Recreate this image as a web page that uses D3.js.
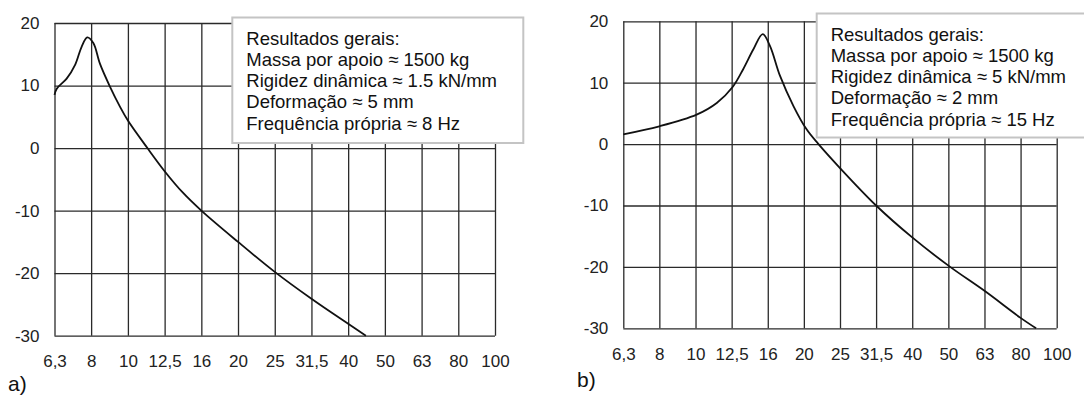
<!DOCTYPE html>
<html>
<head>
<meta charset="utf-8">
<script src="https://cdn.jsdelivr.net/npm/d3@7"></script>
<style>
    body { margin: 0; background: #fff; }
    svg { display: block; font-family: "Liberation Sans", Arial, sans-serif; }
</style>
</head>
<body>
<div id="chart"></div>
<script>
// 1/3 octave band centres (exact) and their printed labels
var bandHz = [6.31, 7.94, 10, 12.59, 15.85, 19.95, 25.12, 31.62, 39.81, 50.12, 63.1, 79.43, 100];
var bandLabels = ["6,3", "8", "10", "12,5", "16", "20", "25", "31,5", "40", "50", "63", "80", "100"];
var dbTicks = [-30, -20, -10, 0, 10, 20];

// curve a)
var curveAHz = [6.31, 6.4, 6.81, 7.18, 7.48, 7.75, 8.05, 8.39, 8.94, 9.52, 10, 11.3, 12.59, 14.1, 15.85, 19.95, 25.12, 31.62, 39.81, 44.5];
var curveADb = [8.5, 9.5, 11.1, 13.3, 16.2, 17.7, 16.8, 13.5, 9.8, 6.6, 4.4, 0, -3.7, -7.1, -10, -15, -19.8, -24.1, -28.1, -30];

// curve b)
var curveBHz = [6.31, 7.94, 10.07, 11.45, 12.67, 13.55, 14.45, 15.35, 16.07, 17.14, 18.67, 20.3, 21.9, 25.12, 31.62, 39.81, 50.7, 63.1, 79.43, 87.7];
var curveBDb = [1.6, 2.9, 4.8, 6.7, 9.3, 12.2, 15.4, 17.9, 16, 11.1, 6.2, 2.4, 0, -3.9, -10, -15.2, -20, -23.9, -28.3, -30];

var legendA = ["Resultados gerais:", "Massa por apoio \u2248 1500 kg", "Rigidez din\u00e2mica \u2248 1.5 kN/mm", "Deforma\u00e7\u00e3o \u2248 5 mm", "Frequ\u00eancia pr\u00f3pria \u2248 8 Hz"];
var legendB = ["Resultados gerais:", "Massa por apoio \u2248 1500 kg", "Rigidez din\u00e2mica \u2248 5 kN/mm", "Deforma\u00e7\u00e3o \u2248 2 mm", "Frequ\u00eancia pr\u00f3pria \u2248 15 Hz"];

var svg = d3.select('#chart').append('svg')
    .attr('width', 1084)
    .attr('height', 396);

var panels = [
    {left: 54.5, right: 495, top: 23, bottom: 335.7, hz: curveAHz, db: curveADb, legend: legendA,
        box: {x: 232.3, y: 17.5, w: 291, h: 125.5}, tag: 'a)', tagX: 8, tagY: 391},
    {left: 623.3, right: 1056.7, top: 21.3, bottom: 328.3, hz: curveBHz, db: curveBDb, legend: legendB,
        box: {x: 816.7, y: 13.5, w: 280, h: 124}, tag: 'b)', tagX: 577, tagY: 387}
];

panels.forEach(function (p) {
    var x = d3.scaleLog().domain([bandHz[0], bandHz[bandHz.length - 1]]).range([p.left, p.right]);
    var y = d3.scaleLinear().domain([-30, 20]).range([p.bottom, p.top]);
    var g = svg.append('g');

    //grid + x labels
    var xAxis = g.append('g')
        .attr('transform', 'translate(0,' + p.bottom + ')')
        .call(d3.axisBottom(x).tickValues(bandHz)
            .tickFormat(function (d, i) { return bandLabels[i]; })
            .tickSize(-(p.bottom - p.top)).tickPadding(19.5));
    //grid + y labels
    var yAxis = g.append('g')
        .attr('transform', 'translate(' + p.left + ',0)')
        .call(d3.axisLeft(y).tickValues(dbTicks)
            .tickFormat(function (d) { return String(d); })
            .tickSize(-(p.right - p.left)).tickPadding(15));

    [xAxis, yAxis].forEach(function (a) {
        a.select('.domain').remove();
        a.selectAll('line').attr('stroke', '#2a2a2a').attr('stroke-width', 1.3);
        a.selectAll('text').attr('fill', '#222').style('font-size', '17px');
    });

    var line = d3.line()
        .x(function (d) { return x(d[0]); })
        .y(function (d) { return y(d[1]); })
        .curve(d3.curveCatmullRom.alpha(0.5));
    g.append('path')
        .datum(d3.zip(p.hz, p.db))
        .attr('d', line)
        .attr('fill', 'none')
        .attr('stroke', '#111')
        .attr('stroke-width', 1.8);

    //legend box
    g.append('rect')
        .attr('x', p.box.x).attr('y', p.box.y)
        .attr('width', p.box.w).attr('height', p.box.h)
        .attr('fill', '#fff')
        .attr('stroke', '#c4c4c4')
        .attr('stroke-width', 2);
    g.selectAll('.leg')
        .data(p.legend)
        .enter().append('text')
        .attr('x', p.box.x + 14)
        .attr('y', function (d, i) { return p.box.y + 27 + i * 21.25; })
        .attr('font-size', '18.5px')
        .attr('fill', '#111')
        .text(function (d) { return d; });

    g.append('text')
        .attr('x', p.tagX).attr('y', p.tagY)
        .attr('font-size', '21px')
        .attr('fill', '#111')
        .text(p.tag);
});
</script>
</body>
</html>
